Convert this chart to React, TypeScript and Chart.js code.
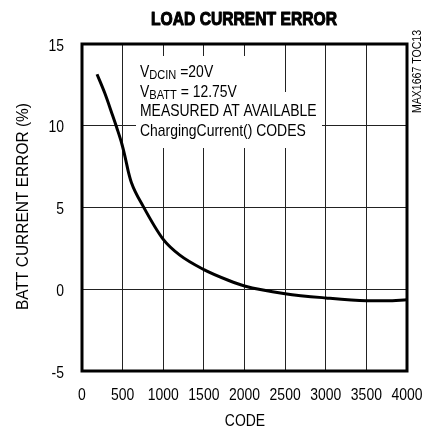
import React, { useEffect, useRef } from "react";
import { Chart, registerables } from "chart.js";

Chart.register(...registerables);

const codes = [185, 280, 365, 430, 490, 530, 570, 610, 750, 1000, 1200, 1500, 1800, 2000, 2500, 3000, 3500, 3750, 4000];
const errors = [13.15, 12.0, 10.8, 9.85, 8.9, 8.1, 7.2, 6.5, 5.1, 3.05, 2.1, 1.2, 0.55, 0.2, -0.27, -0.53, -0.7, -0.71, -0.64];

const xTicks = [0, 500, 1000, 1500, 2000, 2500, 3000, 3500, 4000];
const yTicks = [-5, 0, 5, 10, 15];

const TITLE = "LOAD CURRENT ERROR";
const X_TITLE = "CODE";
const Y_TITLE = "BATT CURRENT ERROR (%)";
const SIDE_TEXT = "MAX1667 TOC13";

const FONT = '"Liberation Sans", Arial, sans-serif';
const NARROW = 0.82;

function fitText(ctx: CanvasRenderingContext2D, text: string, x: number, y: number, w: number, stroke = 0) {
  const m = ctx.measureText(text).width;
  ctx.save();
  ctx.translate(x, y);
  ctx.scale(w / m, 1);
  ctx.fillText(text, 0, 0);
  if (stroke > 0) {
    ctx.lineWidth = stroke;
    ctx.strokeStyle = ctx.fillStyle as string;
    ctx.lineJoin = "round";
    ctx.strokeText(text, 0, 0);
  }
  ctx.restore();
}

function narrowText(ctx: CanvasRenderingContext2D, text: string, x: number, y: number) {
  ctx.save();
  ctx.translate(x, y);
  ctx.scale(NARROW, 1);
  ctx.fillText(text, 0, 0);
  ctx.restore();
  return ctx.measureText(text).width * NARROW;
}

const decor = {
  id: "decor",
  beforeDatasetsDraw(chart: any) {
    const ctx: CanvasRenderingContext2D = chart.ctx;
    ctx.save();
    ctx.fillStyle = "#fff";
    ctx.fillRect(136, 56, 124, 37);
    ctx.fillRect(136, 92, 186, 56);
    ctx.fillStyle = "#000";
    ctx.textAlign = "left";
    ctx.textBaseline = "alphabetic";
    const main = `17px ${FONT}`;
    const sub = `13.5px ${FONT}`;
    const drawSub = (y: number, s: string, rest: string) => {
      let x = 140;
      ctx.font = main;
      x += narrowText(ctx, "V", x, y);
      ctx.font = sub;
      x += narrowText(ctx, s, x, y + 1.5);
      ctx.font = main;
      narrowText(ctx, rest, x, y);
    };
    drawSub(77, "DCIN", " =20V");
    drawSub(97, "BATT", " = 12.75V");
    ctx.font = main;
    narrowText(ctx, "MEASURED AT AVAILABLE", 140, 116);
    narrowText(ctx, "ChargingCurrent() CODES", 140, 136);
    ctx.restore();
  },
  afterDraw(chart: any) {
    const ctx: CanvasRenderingContext2D = chart.ctx;
    const a = chart.chartArea;
    const xs = chart.scales.x;
    const ys = chart.scales.y;
    ctx.save();
    ctx.strokeStyle = "#000";
    ctx.lineWidth = 3;
    ctx.strokeRect(a.left, a.top, a.right - a.left, a.bottom - a.top);

    ctx.fillStyle = "#000";
    ctx.textBaseline = "alphabetic";

    ctx.font = `17px ${FONT}`;
    ctx.textAlign = "center";
    xTicks.forEach((v) => {
      narrowText(ctx, String(v), xs.getPixelForValue(v), 399.5);
    });
    ctx.textAlign = "right";
    yTicks.forEach((v) => {
      narrowText(ctx, String(v), a.left - 18, ys.getPixelForValue(v) + 6.5);
    });

    ctx.textAlign = "center";
    ctx.font = `bold 19px ${FONT}`;
    fitText(ctx, TITLE, 244, 25, 186, 1.1);

    ctx.font = `17px ${FONT}`;
    narrowText(ctx, X_TITLE, 245, 426);

    ctx.save();
    ctx.translate(28, 206.5);
    ctx.rotate(-Math.PI / 2);
    ctx.font = `16px ${FONT}`;
    fitText(ctx, Y_TITLE, 0, 0, 207);
    ctx.restore();

    ctx.save();
    ctx.translate(420.5, 71.5);
    ctx.rotate(-Math.PI / 2);
    ctx.font = `12px ${FONT}`;
    fitText(ctx, SIDE_TEXT, 0, 0, 83);
    ctx.restore();
    ctx.restore();
  },
};

export default function App() {
  const ref = useRef<HTMLCanvasElement>(null);
  useEffect(() => {
    if (!ref.current) return;
    const chart = new Chart(ref.current, {
      type: "line",
      data: {
        datasets: [
          {
            data: codes.map((c, i) => ({ x: c, y: errors[i] })),
            borderColor: "#000",
            borderWidth: 3,
            pointRadius: 0,
            fill: false,
            cubicInterpolationMode: "monotone",
          },
        ],
      },
      options: {
        responsive: false,
        animation: false,
        layout: { padding: { top: 44, right: 17, left: 0, bottom: 0 } },
        plugins: { legend: { display: false }, tooltip: { enabled: false }, title: { display: false } },
        scales: {
          x: {
            type: "linear",
            min: 0,
            max: 4000,
            afterBuildTicks: (s: any) => {
              s.ticks = xTicks.map((v) => ({ value: v }));
            },
            afterFit: (s: any) => {
              s.height = 59;
            },
            ticks: { display: false },
            grid: { color: "#222", lineWidth: 1, drawTicks: false },
            border: { display: false },
          },
          y: {
            type: "linear",
            min: -5,
            max: 15,
            afterBuildTicks: (s: any) => {
              s.ticks = yTicks.map((v) => ({ value: v }));
            },
            afterFit: (s: any) => {
              s.width = 82;
            },
            ticks: { display: false },
            grid: { color: "#222", lineWidth: 1, drawTicks: false },
            border: { display: false },
          },
        },
      },
      plugins: [decor],
    });
    return () => chart.destroy();
  }, []);
  return (
    <div style={{ position: "fixed", left: 0, top: 0, width: 424, height: 430, background: "#fff" }}>
      <canvas ref={ref} width={424} height={430} style={{ display: "block" }} />
    </div>
  );
}
